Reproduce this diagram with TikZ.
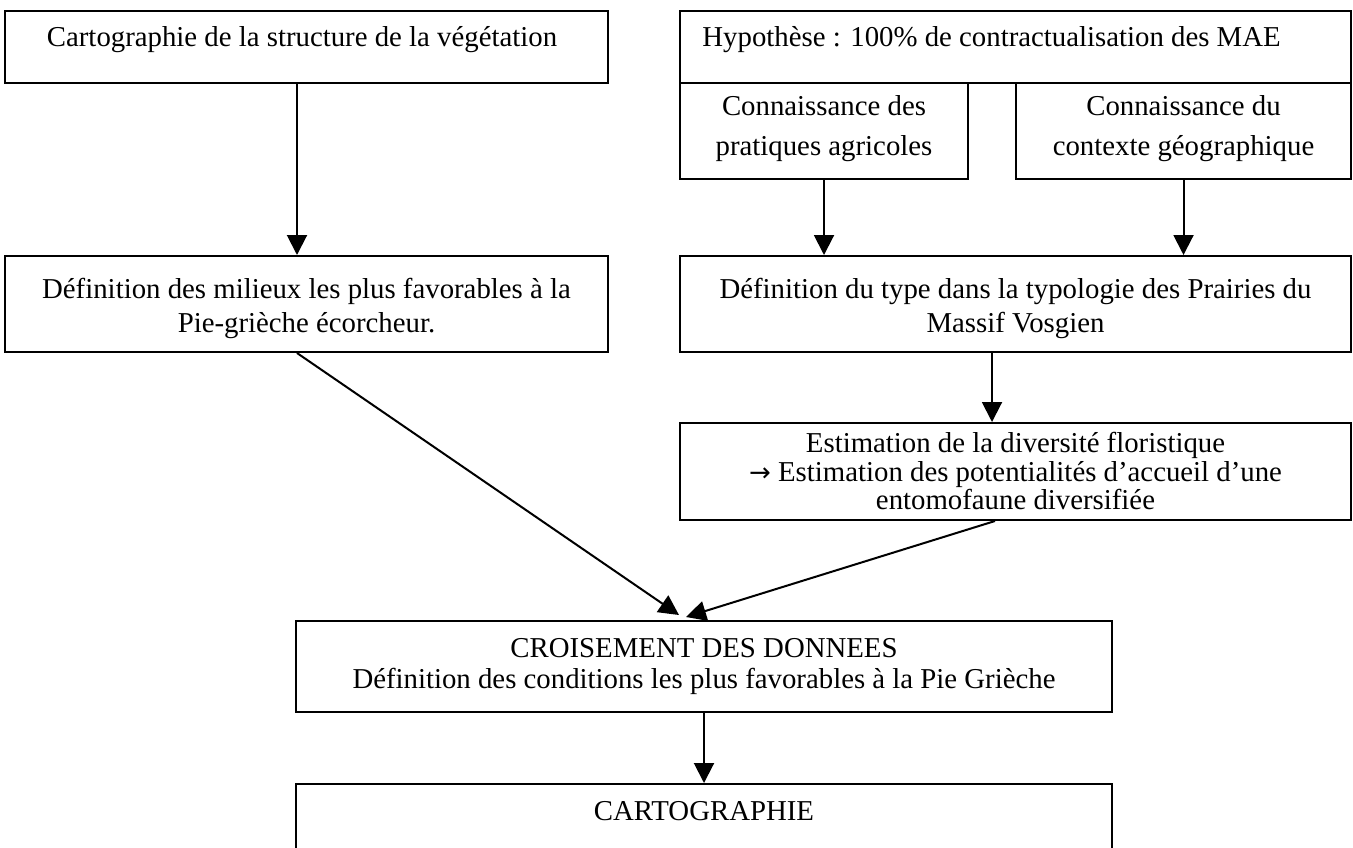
\documentclass[tikz,border=0pt]{standalone}
\usepackage{fontspec}
\setmainfont{Liberation Serif}
\newfontfamily\symfont{DejaVu Sans}
\usetikzlibrary{arrows.meta,fit}
\begin{document}
\begin{tikzpicture}[x=0.5pt,y=-0.5pt,
  box/.style={draw,line width=1pt,inner sep=0pt},
  txt/.style={inner sep=0pt,font=\fontsize{14.4}{#1}\selectfont,align=center},
  txt/.default=14.3pt,
  arr/.style={line width=1pt,-{Triangle[length=10pt,width=10pt]}}]
\useasboundingbox (0,0) rectangle (1353,847);
% boxes
\node[box,fit={(5,11) (608,83)}] (A) {};
\node[box,fit={(680,11) (1351,83)}] (B) {};
\node[box,fit={(680,83) (968,179)}] (SL) {};
\node[box,fit={(1016,83) (1351,179)}] (SR) {};
\node[box,fit={(5,256) (608,352)}] (C) {};
\node[box,fit={(680,256) (1351,352)}] (D) {};
\node[box,fit={(680,423) (1351,520)}] (E) {};
\node[box,fit={(296,621) (1112,712)}] (F) {};
\node[box,fit={(296,784) (1112,900)}] (G) {};
% texts
\node[txt,anchor=north] (tA) at (302,26) {Cartographie de la structure de la végétation};
\node[txt,anchor=north west] (tB) at (702,26) {Hypothèse : 100\% de contractualisation des MAE};
\node[txt=20pt,anchor=north] (tSL) at (824,95) {Connaissance des\\pratiques agricoles};
\node[txt=20pt,anchor=north] (tSR) at (1183.5,95) {Connaissance du\\contexte géographique};
\node[txt=17pt,anchor=north] (tC) at (306.5,278) {Définition des milieux les plus favorables à la\\Pie-grièche écorcheur.};
\node[txt=17pt,anchor=north] (tD) at (1015.5,278) {Définition du type dans la typologie des Prairies du\\Massif Vosgien};
\node[txt=14.3pt,anchor=north] (tE) at (1015.5,432) {Estimation de la diversité floristique\\{\symfont\fontsize{13}{14}\selectfont →} Estimation des potentialités d’accueil d’une\\entomofaune diversifiée};
\node[txt=15.5pt,anchor=north] (tF) at (704,638) {CROISEMENT DES DONNEES\\Définition des conditions les plus favorables à la Pie Grièche};
\node[txt,anchor=north] (tG) at (704,801) {CARTOGRAPHIE};
% connectors
\draw[arr] ([xshift=-4.75pt]A.south) -- ([xshift=-4.75pt]C.north);
\draw[arr] (SL.south) -- (SL.south |- D.north);
\draw[arr] (SR.south) -- (SR.south |- D.north);
\draw[arr] ([xshift=-11.75pt]D.south) -- ([xshift=-11.75pt]E.north);
\draw[arr] ([xshift=-4.75pt]C.south) -- ([xshift=-12.5pt,yshift=2.5pt]F.north);
\draw[arr] ([xshift=-10.25pt]E.south) -- ([xshift=-9pt,yshift=1.5pt]F.north);
\draw[arr] (F.south) -- (G.north);
\end{tikzpicture}
\end{document}
